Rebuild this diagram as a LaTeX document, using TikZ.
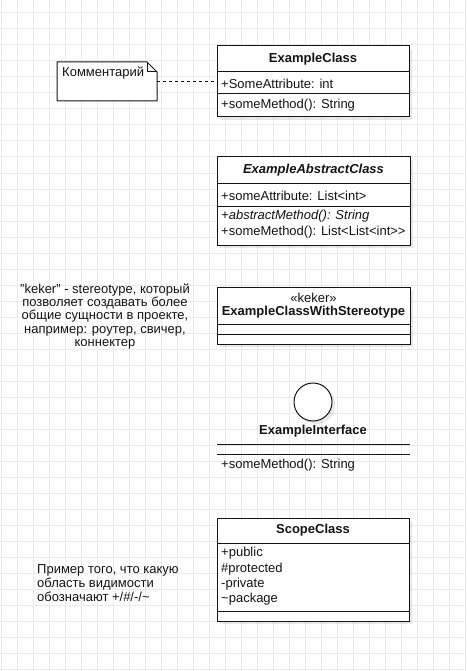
\documentclass[tikz,border=0pt]{standalone}
\usepackage{fontspec}
\setmainfont{Liberation Sans}
\usetikzlibrary{shadows,calc}
\definecolor{gridc}{RGB}{234,234,234}
\definecolor{ink}{RGB}{20,20,20}
\newcommand{\fs}{\fontsize{13}{14}\selectfont}
\tikzset{
  umlbox/.style={draw=ink, line width=1pt, fill=white, inner sep=0pt, outer sep=0pt, anchor=north west,
    drop shadow={shadow xshift=3pt, shadow yshift=-3pt, fill=black, opacity=0.09}},
  sect/.style={draw=ink, line width=1pt},
  txt/.style={font=\fs, text=ink, inner sep=0pt},
  mem/.style={txt, anchor=west, inner xsep=4pt},
  hdr/.style={txt, font=\fs\bfseries},
}
\begin{document}
\begin{tikzpicture}[x=1pt,y=-1pt]
\useasboundingbox (0,0) rectangle (466,671);
\fill[white] (0,0) rectangle (466,671);
\foreach \gx in {1,17,...,465} \draw[gridc, line width=1pt] (\gx,0) -- (\gx,671);
\foreach \gy in {13,29,...,669} \draw[gridc, line width=1pt] (0,\gy) -- (466,\gy);

% ExampleClass
\node[umlbox, minimum width=192pt, minimum height=71pt] (ec) at (217,46) {};
\draw[sect] (217,72) -- (409,72);
\draw[sect] (217,94) -- (409,94);
\node[hdr] (ectitle) at (313,59.5) {ExampleClass};
\node[mem] (ecattr) at (217,83.5) {+SomeAttribute: int};
\node[mem] (ecmeth) at (217,105.5) {+someMethod(): String};

% Note
\node[minimum width=100pt, minimum height=39pt, anchor=north west, inner sep=0pt, outer sep=0pt] (note) at (57,62) {};
\draw[ink, line width=1pt, fill=white, line join=round]
  (note.south west) -- (note.north west) -- ([xshift=-10pt]note.north east)
  -- ([yshift=-10pt]note.north east) -- (note.south east) -- cycle;
\draw[ink, line width=1pt, line join=round] ([xshift=-10pt]note.north east) -- ([xshift=-10pt,yshift=-10pt]note.north east) -- ([yshift=-10pt]note.north east);
\node[txt, anchor=west] (notetext) at (62,73.5) {Комментарий};
\draw[ink, line width=1pt, dash pattern=on 3pt off 3pt] (note.east) -- (note.east -| ec.west);

% ExampleAbstractClass
\node[umlbox, minimum width=193pt, minimum height=88pt] (ac) at (217,157) {};
\draw[sect] (217,183) -- (410,183);
\draw[sect] (217,206) -- (410,206);
\node[hdr, font=\fs\bfseries\itshape] (actitle) at (313.5,170.5) {ExampleAbstractClass};
\node[mem] (acattr) at (217,195.5) {+someAttribute: List<int>};
\node[mem, font=\fs\itshape] (acm1) at (217,216.5) {+abstractMethod(): String};
\node[mem] (acm2) at (217,232.5) {+someMethod(): List<List<int>{}>};

% Stereotype
\node[umlbox, minimum width=193pt, minimum height=57pt] (st) at (217,287) {};
\draw[sect] (217,324) -- (410,324);
\draw[sect] (217,334) -- (410,334);
\node[txt] (stster) at (313.5,297.5) {«keker»};
\node[hdr] (sttitle) at (313.5,312.5) {ExampleClassWithStereotype};
\node[txt, align=center, font=\fontsize{13}{13.3}\selectfont] (stnote) at (105,316.5) {"keker" - stereotype, который\\позволяет создавать более\\общие сущности в проекте,\\например: роутер, свичер,\\коннектер};

% Interface
\node[circle, draw=ink, line width=1pt, fill=white, minimum size=38pt, inner sep=0pt,
  drop shadow={shadow xshift=3pt, shadow yshift=-3pt, fill=black, opacity=0.09}] (ifc) at (313,402) {};
\node[hdr] (iftitle) at (313,431.5) {ExampleInterface};
\draw[sect] (217,444) -- (410,444);
\draw[sect] (217,454) -- (410,454);
\node[mem] (ifmeth) at (217,465.5) {+someMethod(): String};

% ScopeClass
\node[umlbox, minimum width=192pt, minimum height=103pt] (sc) at (217,518) {};
\draw[sect] (217,543) -- (409,543);
\draw[sect] (217,611) -- (409,611);
\node[hdr] (sctitle) at (313,530.5) {ScopeClass};
\node[mem] (sc1) at (217,553.5) {+public};
\node[mem] (sc2) at (217,569.5) {\#protected};
\node[mem] (sc3) at (217,584.5) {-private};
\node[mem] (sc4) at (217,599.5) {\textasciitilde package};
\node[txt, align=left, anchor=west] (scnote) at (37,583.5) {Пример того, что какую\\область видимости\\обозначают +/\#/-/\textasciitilde};
\end{tikzpicture}
\end{document}
